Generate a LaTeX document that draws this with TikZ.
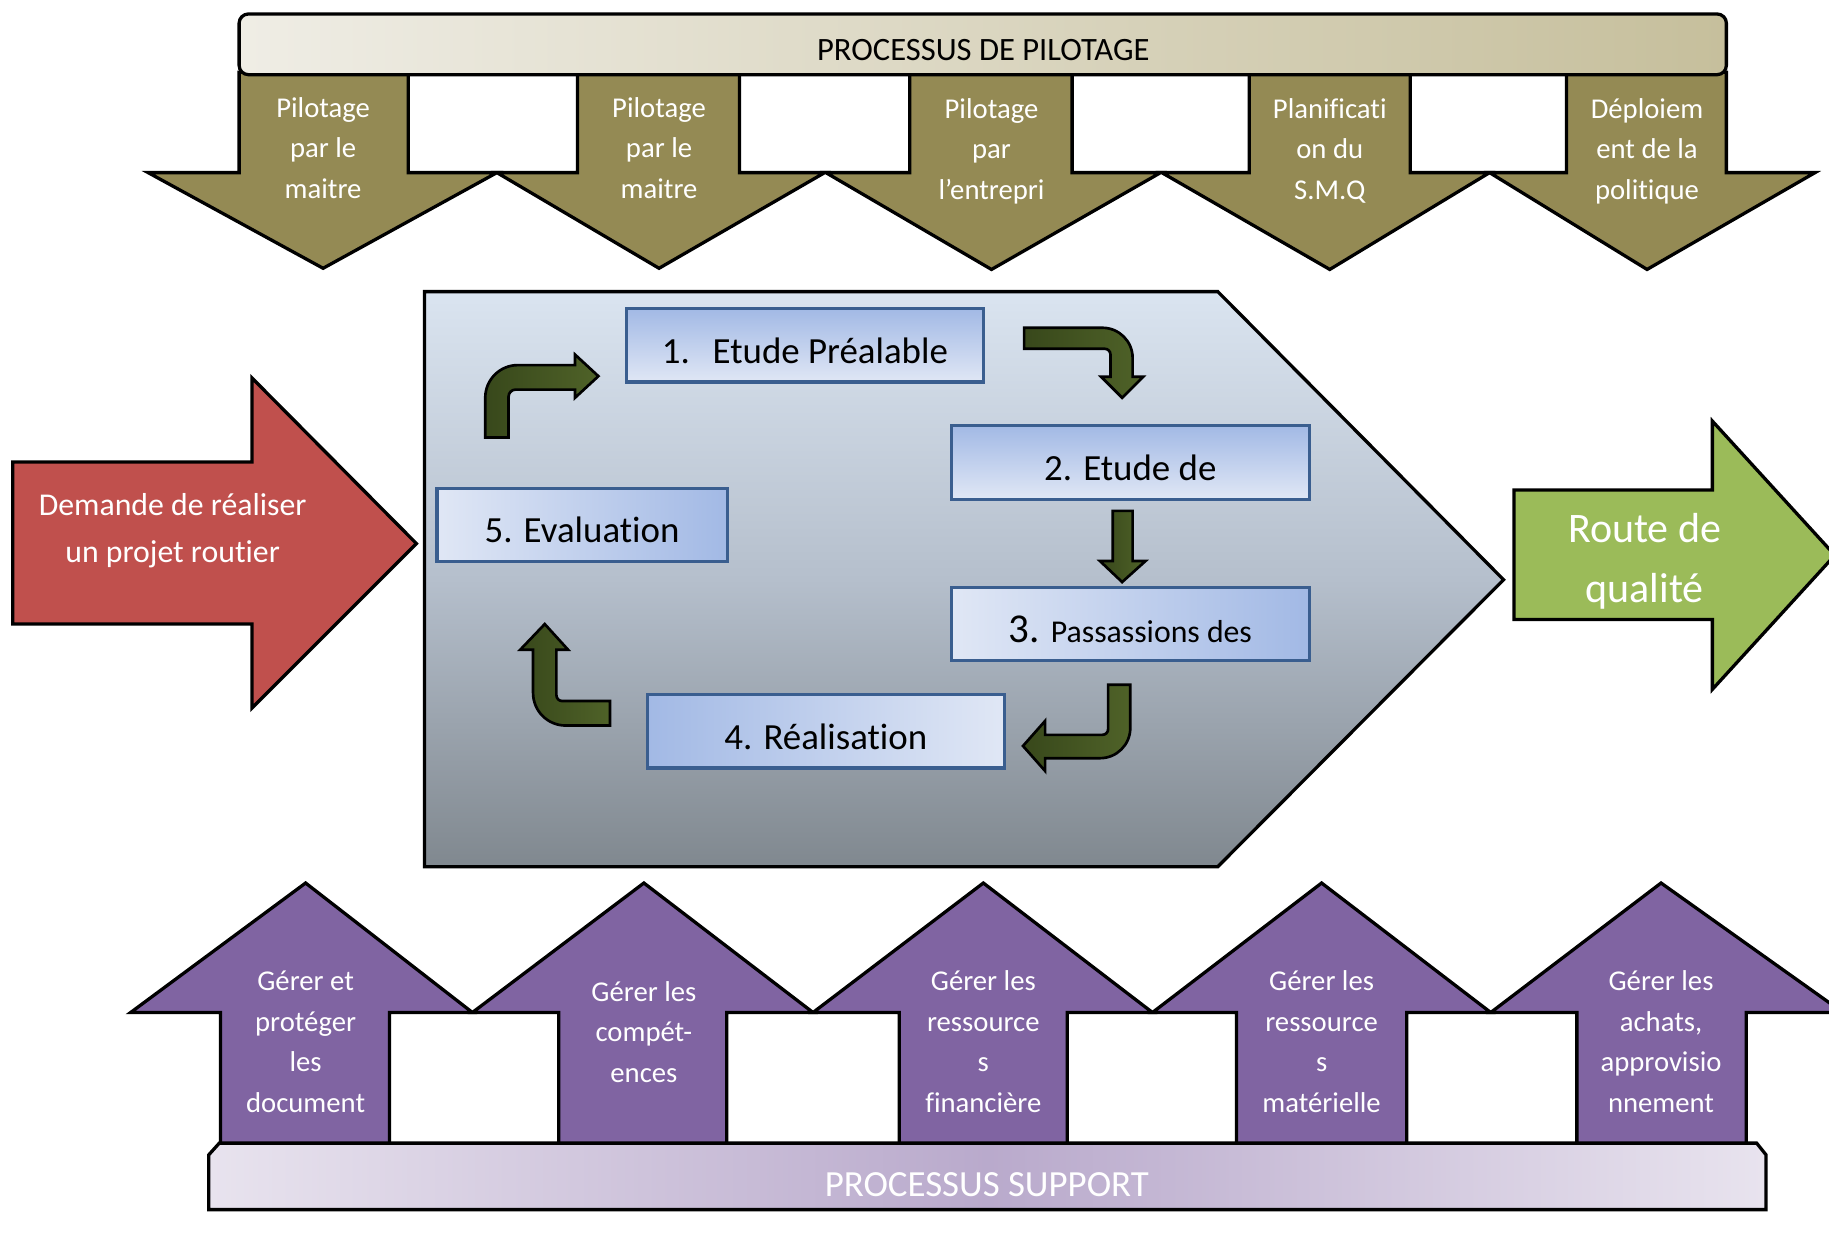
\documentclass[tikz,border=0pt]{standalone}
\usepackage{fontspec}
\setmainfont{Carlito}[Ligatures=NoCommon]
\definecolor{pilotolive}{HTML}{948A54}
\definecolor{supportviolet}{HTML}{8064A2}
\definecolor{inputred}{HTML}{C0504D}
\definecolor{outputgreen}{HTML}{9BBB59}
\definecolor{loopgreen}{HTML}{4F6228}
\definecolor{loopdark}{HTML}{38481B}
\definecolor{stageedge}{HTML}{3A5E8F}
\definecolor{stagedark}{HTML}{A2B9E5}
\definecolor{stagelight}{HTML}{E0E7F5}
\definecolor{chevrontop}{HTML}{DAE4F0}
\definecolor{chevronmid}{HTML}{B5BFCC}
\definecolor{chevronbottom}{HTML}{80888F}
\definecolor{bannerleft}{HTML}{EFEDE5}
\definecolor{bannerright}{HTML}{C6BF9C}
\newcommand\pilotarrow[6]{%
  \draw[pilotshape] (#1,62) -- (#1,148) -- (#3,148) -- (#5,#6) -- (#4,148) -- (#2,148) -- (#2,62) -- cycle;}
\newcommand\supportarrow[5]{%
  \draw[supportshape] (#1,982) -- (#1,868) -- (#3,868) -- (#5,757) -- (#4,868) -- (#2,868) -- (#2,982) -- cycle;}
\begin{document}
\begin{tikzpicture}[x=0.02cm,y=-0.02cm,
  outline/.style={draw=black,line width=1.6pt,line join=miter},
  pilotshape/.style={outline,fill=pilotolive},
  supportshape/.style={outline,fill=supportviolet},
  gapbox/.style={outline,fill=white},
  whitelbl/.style={text=white,align=center,inner sep=0pt,font=\fontsize{14}{19.8}\selectfont},
  stagebox/.style={draw=stageedge,line width=1.6pt,inner sep=0pt,minimum height=1.26cm,
     text height=17.6pt,text depth=0pt,font=\fontsize{18}{22}\selectfont,text=black},
  looparrow/.style={draw=black,line width=1.3pt,line join=miter,left color=loopdark,right color=loopgreen},
]
\useasboundingbox (0,0) rectangle (1568,1064);
\clip (0,0) rectangle (1568,1064);

% ---------- piloting processes (top) ----------
\foreach \a/\b in {350/495,634/780,919/1071,1209/1343}
  \draw[gapbox] (\a,62) rectangle (\b,148);

\pilotarrow{205}{350}{127}{426}{277}{230}
\pilotarrow{495}{634}{426}{707}{565}{230}
\pilotarrow{780}{919}{708}{995}{850}{231}
\pilotarrow{1071}{1209}{996}{1277}{1140}{231}
\pilotarrow{1343}{1480}{1277}{1556}{1412}{231}

\node[whitelbl,anchor=north] (p1) at (277,83) {Pilotage\\par le\\maitre};
\node[whitelbl,anchor=north] (p2) at (565,83) {Pilotage\\par le\\maitre};
\node[whitelbl,anchor=north] (p3) at (850,84) {Pilotage\\par\\l’entrepri};
\node[whitelbl,anchor=north] (p4) at (1140,84) {Planificati\\on du\\S.M.Q};
\node[whitelbl,anchor=north] (p5) at (1412,84) {Déploiem\\ent de la\\politique};

\draw[outline,rounded corners=4.5pt,left color=bannerleft,right color=bannerright]
  (205,12) rectangle (1480,64);
\node[font=\fontsize{15.9}{18}\selectfont,inner sep=0pt] (pilotage) at (843,43) {PROCESSUS DE PILOTAGE};

% ---------- support processes (bottom) ----------
\foreach \a/\b in {334/479,623/771,915/1060,1206/1352}
  \draw[gapbox] (\a,868) rectangle (\b,982);

\supportarrow{189}{334}{112}{405}{262}
\supportarrow{479}{623}{405}{697}{552}
\supportarrow{771}{915}{697}{988}{843}
\supportarrow{1060}{1206}{988}{1278}{1133}
\supportarrow{1352}{1497}{1278}{1580}{1424}

\node[whitelbl,anchor=north] (s1) at (262,832) {Gérer et\\protéger\\les\\document};
\node[whitelbl,anchor=north] (s2) at (552,841) {Gérer les\\compét-\\ences};
\node[whitelbl,anchor=north] (s3) at (843,832) {Gérer les\\ressource\\s\\financière};
\node[whitelbl,anchor=north] (s4) at (1133,832) {Gérer les\\ressource\\s\\matérielle};
\node[whitelbl,anchor=north] (s5) at (1424,832) {Gérer les\\achats,\\approvisio\\nnement};

\draw[outline,left color=supportviolet!18,right color=supportviolet!18,middle color=supportviolet!55]
  (179,990) -- (188,980) -- (1506,980) -- (1514,990) -- (1514,1037) -- (179,1037) -- cycle;
\node[font=\fontsize{18}{20}\selectfont,text=white,inner sep=0pt] (support) at (846,1016) {PROCESSUS SUPPORT};

% ---------- realisation process (centre) ----------
\draw[outline,top color=chevrontop,bottom color=chevronbottom,middle color=chevronmid]
  (364,250) -- (1044,250) -- (1289,497) -- (1044,743) -- (364,743) -- cycle;

\node[stagebox,minimum width=6.12cm,top color=stagedark,bottom color=stagelight] (st1) at (690,296)
  {1.\hspace{0.62em}Etude Préalable};
\node[stagebox,minimum width=6.14cm,top color=stagedark,bottom color=stagelight] (st2) at (969,396.5)
  {2. Etude de};
\node[stagebox,minimum width=6.14cm,left color=stagelight,right color=stagedark] (st3) at (969,535)
  {{\fontsize{20}{22}\selectfont 3.} {\fontsize{15.5}{22}\selectfont Passassions des}};
\node[stagebox,minimum width=6.12cm,left color=stagedark,right color=stagelight] (st4) at (708,627)
  {4. Réalisation};
\node[stagebox,minimum width=4.98cm,left color=stagelight,right color=stagedark] (st5) at (499,450)
  {5. Evaluation};

% bent arrows linking the stages
\draw[looparrow] (416,375) -- (416,341) .. controls (416,325.5) and (428.5,313) .. (444,313)
  -- (493,313) -- (493,304) -- (513,322.5) -- (493,341) -- (493,334) -- (442,334)
  .. controls (438.7,334) and (436,336.7) .. (436,340) -- (436,375) -- cycle;
\draw[looparrow] (878,281) -- (945,281) .. controls (959.4,281) and (971,292.6) .. (971,307)
  -- (971,323) -- (980,323) -- (962,341) -- (944,323) -- (952,323) -- (952,304)
  .. controls (952,301.2) and (949.8,299) .. (947,299) -- (878,299) -- cycle;
\draw[looparrow] (954,438) -- (971,438) -- (971,481) -- (982,481) -- (962,499)
  -- (943,481) -- (954,481) -- cycle;
\draw[looparrow] (950,587) -- (969,587) -- (969,624) .. controls (969,638.4) and (957.4,650) .. (943,650)
  -- (896,650) -- (896,661) -- (877,639.5) -- (896,618) -- (896,630) -- (945,630)
  .. controls (947.8,630) and (950,627.8) .. (950,625) -- cycle;
\draw[looparrow] (523,601) -- (523,622) -- (485,622) .. controls (469.5,622) and (457,609.5) .. (457,594)
  -- (457,557) -- (446,557) -- (467,535) -- (487,557) -- (477,557) -- (477,596)
  .. controls (477,598.8) and (479.2,601) .. (482,601) -- cycle;

% ---------- input and output ----------
\draw[outline,fill=inputred] (11,396) -- (216,396) -- (216,324) -- (357,466) -- (216,607)
  -- (216,535) -- (11,535) -- cycle;
\node[text=white,align=center,inner sep=0pt,font=\fontsize{15.5}{22.7}\selectfont] (demande) at (148,455)
  {Demande de réaliser\\un projet routier};

\draw[outline,fill=outputgreen] (1298,420) -- (1468,420) -- (1468,361) -- (1573,476) -- (1468,591)
  -- (1468,531) -- (1298,531) -- cycle;
\node[text=white,align=center,inner sep=0pt,anchor=north,font=\fontsize{20.5}{28.9}\selectfont] (route) at (1410,440)
  {Route de\\qualité};
\end{tikzpicture}
\end{document}
